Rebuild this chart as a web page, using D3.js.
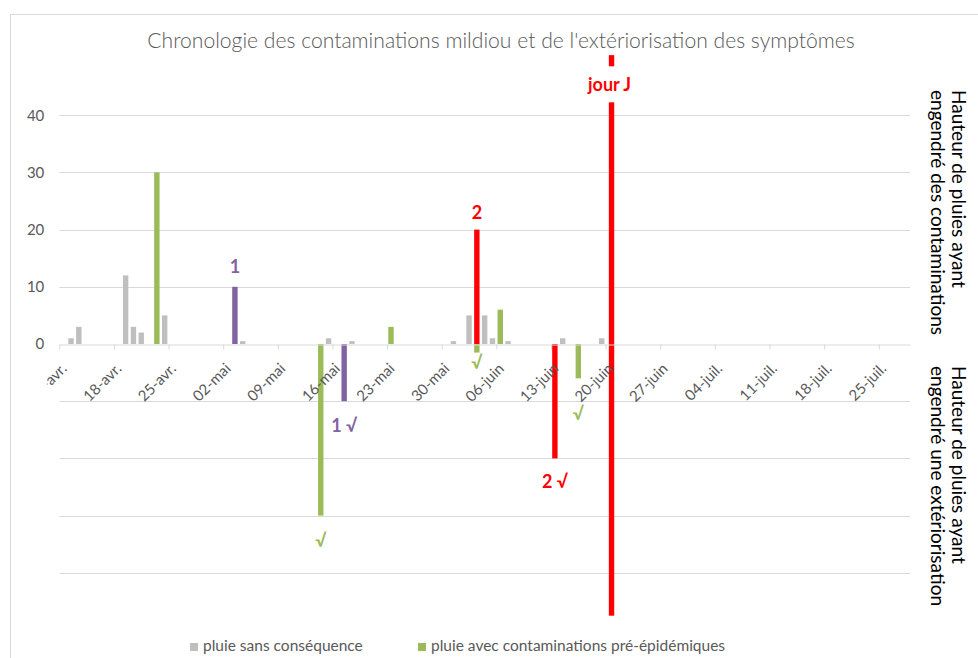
<!DOCTYPE html>
<html>
<head>
<meta charset="utf-8">
<script src="https://cdn.jsdelivr.net/npm/d3@7"></script>
<style>
  body { margin: 0; background: #fff; }
  svg { display: block; font-family: Lato, "Liberation Sans", sans-serif; }
</style>
</head>
<body>
<div id="chart"></div>
<script>
// --- data ---
var title = "Chronologie des contaminations mildiou et de l'extériorisation des symptômes";

var tickDates = ["2018-04-11","2018-04-18","2018-04-25","2018-05-02","2018-05-09","2018-05-16","2018-05-23","2018-05-30",
                 "2018-06-06","2018-06-13","2018-06-20","2018-06-27","2018-07-04","2018-07-11","2018-07-18","2018-07-25"];
var tickLabels = ["11-avr.","18-avr.","25-avr.","02-mai","09-mai","16-mai","23-mai","30-mai",
                  "06-juin","13-juin","20-juin","27-juin","04-juil.","11-juil.","18-juil.","25-juil."];
var yTicks = [0, 10, 20, 30, 40];
var gridValues = [-40, -30, -20, -10, 10, 20, 30, 40];

// pluie sans conséquence (gris)
var grayDates  = ["2018-04-12","2018-04-13","2018-04-19","2018-04-20","2018-04-21","2018-04-24","2018-05-04","2018-05-15",
                  "2018-05-18","2018-05-31","2018-06-02","2018-06-04","2018-06-05","2018-06-07","2018-06-14","2018-06-19"];
var grayValues = [1, 3, 12, 3, 2, 5, 0.5, 1, 0.5, 0.5, 5, 5, 1, 0.5, 1, 1];

// pluie avec contaminations pré-épidémiques (vert), contaminations et extériorisations
var greenDates  = ["2018-04-23","2018-05-23","2018-06-06","2018-05-14","2018-06-03","2018-06-16"];
var greenValues = [30, 3, 6, -30, -1.5, -6];

// contamination 1 (violet)
var purpleDates  = ["2018-05-03","2018-05-17"];
var purpleValues = [10, -10];

// contamination 2 (rouge)
var redDates  = ["2018-06-03","2018-06-13"];
var redValues = [20, -20];

// jour J
var jourJDate = "2018-06-20";
var jourJRange = [50.5, -47.5];

// data labels
var labelTexts  = ["1", "2", "jour J", "1 \u221A", "\u221A", "\u221A", "2 \u221A", "\u221A"];
var labelDates  = ["2018-05-03","2018-06-03","2018-06-20","2018-05-17","2018-05-14","2018-06-03","2018-06-13","2018-06-16"];
var labelValues = [13.5, 23, 45.4, -14.2, -34.4, -3.3, -24, -12.2];
var labelSeries = ["purple","red","red","purple","green","green","red","green"];

var legendLabels = ["pluie sans conséquence", "pluie avec contaminations pré-épidémiques"];
var rightTitleTop = ["Hauteur de pluies ayant", "engendré des contaminations"];
var rightTitleBottom = ["Hauteur de pluies ayant", "engendré une extériorisation"];

// --- drawing ---
var colors = { gray: "#bfbfbf", green: "#9bbb59", purple: "#8064a2", red: "#ff0000" };
var FONT = "Lato, 'Liberation Sans', sans-serif";
var W = 978, H = 658;
var parse = d3.utcParse("%Y-%m-%d");

var svg = d3.select("#chart").append("svg").attr("width", W).attr("height", H);

// chart area border (cut off on right and bottom)
svg.append("rect").attr("x", 10.5).attr("y", 14.5).attr("width", W).attr("height", H)
  .attr("fill", "#fff").attr("stroke", "#d9d9d9");

var x = d3.scaleUtc().domain([parse("2018-04-11"), parse("2018-07-29")]).range([59.3, 910]);
var y = d3.scaleLinear().domain([-40, 40]).range([572.8, 115.2]);
var dayW = x(parse("2018-04-12")) - x(parse("2018-04-11"));
var barW = dayW * 0.69;
function cx(s) { return x(d3.utcHour.offset(parse(s), 12)); }

function fit(sel, w) {
  var fs = 0;
  sel.each(function() {
    var l = this.getComputedTextLength();
    fs = parseFloat(d3.select(this).style("font-size")) * w / l;
    d3.select(this).style("font-size", fs + "px");
  });
  return fs;
}

// title
svg.append("text").attr("x", 501).attr("y", 48).attr("text-anchor", "middle")
  .style("font-size", "19px").style("font-weight", 300).attr("fill", "#595959")
  .text(title).call(fit, 708);

// gridlines
svg.append("g").selectAll("line").data(gridValues).join("line")
  .attr("x1", 59.3).attr("x2", 910).attr("y1", function(d) { return Math.round(y(d)) + 0.5; })
  .attr("y2", function(d) { return Math.round(y(d)) + 0.5; })
  .attr("stroke", "#d9d9d9");

// y axis labels
var yAxis = svg.append("g").attr("transform", "translate(59.3,0)")
  .call(d3.axisLeft(y).tickValues(yTicks).tickSize(0).tickPadding(15))
  .attr("font-family", FONT).attr("font-size", 15);
yAxis.select(".domain").remove();
yAxis.selectAll("text").attr("fill", "#595959");

// bars
function bars(dates, values, color) {
  svg.append("g").selectAll("rect").data(dates).join("rect")
    .attr("x", function(d) { return cx(d) - barW / 2; })
    .attr("width", barW)
    .attr("y", function(d, i) { return Math.min(y(values[i]), y(0)); })
    .attr("height", function(d, i) { return Math.abs(y(values[i]) - y(0)); })
    .attr("fill", color);
}
bars(grayDates, grayValues, colors.gray);
bars(greenDates, greenValues, colors.green);
bars(purpleDates, purpleValues, colors.purple);
bars(redDates, redValues, colors.red);
svg.append("rect").attr("x", cx(jourJDate) - barW / 2 + 2).attr("width", barW)
  .attr("y", y(jourJRange[0])).attr("height", y(jourJRange[1]) - y(jourJRange[0]))
  .attr("fill", colors.red);

// x axis (first label is cut by the chart edge, as in the source)
var axisY = Math.round(y(0)) + 0.5;
svg.append("clipPath").attr("id", "xclip").append("rect")
  .attr("x", 47).attr("y", -10).attr("width", 900).attr("height", 80);
var xAxis = svg.append("g").attr("transform", "translate(0," + axisY + ")")
  .attr("clip-path", "url(#xclip)")
  .call(d3.axisBottom(x).tickValues(tickDates.map(parse))
        .tickFormat(function(d, i) { return tickLabels[i]; })
        .tickSizeOuter(0).tickSizeInner(5))
  .attr("font-family", FONT).attr("font-size", 15);
xAxis.select(".domain").attr("stroke", "#d9d9d9");
xAxis.selectAll(".tick line").attr("stroke", "#d9d9d9");
xAxis.selectAll(".tick text")
  .attr("fill", "#595959")
  .attr("text-anchor", "end").attr("x", 0).attr("y", 0).attr("dy", 0)
  .attr("transform", "translate(8,25) rotate(-45)");

// data labels
var lbl = svg.append("g").selectAll("g").data(labelTexts).join("g")
  .attr("transform", function(d, i) { return "translate(" + cx(labelDates[i]) + "," + y(labelValues[i]) + ")"; });
lbl.filter(function(d) { return d === "jour J"; }).append("rect")
  .attr("x", -28).attr("y", -18).attr("width", 56).attr("height", 36).attr("fill", "#fff");
lbl.append("text").attr("text-anchor", "middle").attr("dy", "0.35em")
  .style("font-size", "18px").style("font-weight", "bold")
  .attr("fill", function(d, i) { return colors[labelSeries[i]]; })
  .text(function(d) { return d; });

// right-hand titles: first line sized to the source, second line in the same size
function sideTitle(lines, top) {
  var baseX = [952, 930.5], fs = 16;
  lines.forEach(function(t, i) {
    var tx = svg.append("text").attr("transform", "translate(" + baseX[i] + "," + top + ") rotate(90)")
      .attr("text-anchor", "start").style("font-size", fs + "px").attr("fill", "#000")
      .text(t);
    if (i === 0) fs = fit(tx, 198);
  });
}
sideTitle(rightTitleTop, 90);
sideTitle(rightTitleBottom, 366);

// legend
var legendX = [190, 418], legendColors = [colors.gray, colors.green];
legendLabels.forEach(function(t, i) {
  svg.append("rect").attr("x", legendX[i]).attr("y", 643).attr("width", 8).attr("height", 8).attr("fill", legendColors[i]);
  svg.append("text").attr("x", legendX[i] + 13).attr("y", 651).style("font-size", "15.5px")
    .attr("fill", "#595959").text(t);
});
</script>
</body>
</html>
